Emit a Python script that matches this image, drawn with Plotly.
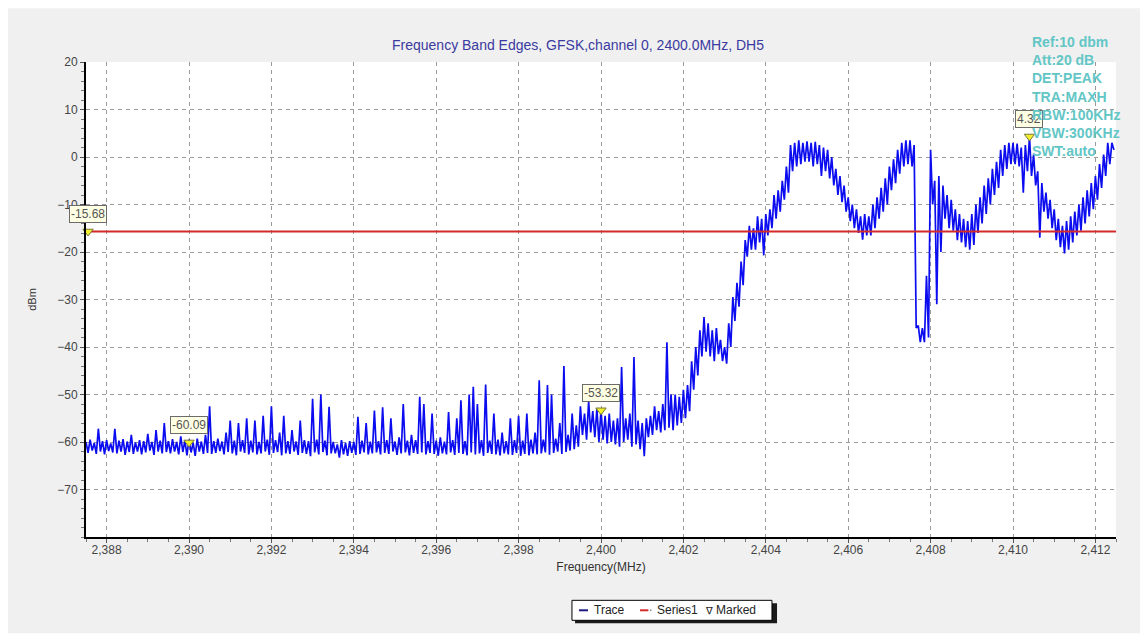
import numpy as np
import plotly.graph_objects as go

# ---------------- data ----------------
title_text = "Frequency Band Edges, GFSK,channel 0, 2400.0MHz, DH5"
info_lines = ["Ref:10 dbm", "Att:20 dB", "DET:PEAK", "TRA:MAXH", "RBW:100KHz", "VBW:300KHz", "SWT:auto"]
legend_names = ["Trace", "Series1", "Marked"]

bin_start = 2387.5    # MHz, first display bin
bin_width = 0.1       # MHz per display bin

# highest level seen in each 0.1 MHz bin (dBm), one row per MHz
bin_max = [
    -60.0, -59.5, -60.2, -57.2, -59.8, -59.6, -60.3, -57.2, -59.7, -59.4,   # 2387.5
    -59.9, -58.5, -60.1, -59.6, -59.8, -58.3, -60.0, -57.5, -59.7, -56.0,   # 2388.5
    -59.8, -59.4, -60.0, -58.8, -59.7, -59.5, -60.2, -59.3, -59.9, -58.5,   # 2389.5
    -52.5, -59.8, -59.3, -59.9, -58.0, -55.5, -59.7, -56.0, -59.6, -55.0,   # 2390.5
    -59.7, -55.5, -60.0, -54.5, -59.5, -52.5, -59.6, -58.0, -54.5, -59.8,   # 2391.5
    -57.5, -59.9, -55.5, -59.6, -59.8, -50.9, -59.5, -50.0, -59.7, -52.6,   # 2392.5
    -60.0, -60.5, -59.6, -60.2, -59.8, -60.0, -54.7, -59.7, -56.0, -59.9,   # 2393.5
    -53.4, -59.8, -52.7, -59.6, -55.0, -59.9, -59.0, -52.0, -59.7, -58.5,   # 2394.5
    -59.6, -50.5, -52.0, -59.8, -54.0, -59.7, -59.0, -59.9, -53.7, -59.6,   # 2395.5
    -55.0, -51.2, -59.8, -50.0, -48.4, -52.0, -59.6, -47.9, -59.7, -54.0,   # 2396.5
    -59.5, -58.0, -59.8, -55.0, -59.6, -54.5, -59.7, -54.0, -59.5, -58.0,   # 2397.5
    -47.0, -59.5, -48.0, -50.0, -59.3, -56.0, -44.0, -58.5, -54.0, -56.5,   # 2398.5
    -52.5, -54.0, -51.5, -53.5, -53.0, -53.3, -54.5, -54.0, -55.5, -55.0,   # 2399.5
    -44.2, -55.0, -54.0, -42.1, -55.5, -56.0, -55.0, -54.5, -52.5, -53.5,   # 2400.5
    -52.0, -39.0, -50.0, -50.0, -50.5, -49.0, -48.0, -43.0, -40.0, -36.5,   # 2401.5
    -33.7, -35.0, -36.5, -36.0, -38.5, -40.0, -35.0, -29.5, -26.5, -22.0,   # 2402.5
    -17.5, -14.5, -15.0, -12.5, -13.0, -12.0, -11.0, -8.0, -7.0, -5.0,      # 2403.5
    -2.0, 2.5, 3.0, 3.5, 3.0, 3.3, 3.0, 3.2, 2.5, 2.0,                      # 2404.5
    1.5, 0.0, -2.5, -4.0, -6.0, -8.5, -10.0, -11.0, -12.5, -12.0,           # 2405.5
    -12.5, -10.0, -8.5, -6.5, -4.5, -2.0, -0.5, 1.5, 3.0, 3.5,              # 2406.5
    3.5, 2.5, -35.5, -36.0, -25.0, 1.5, -5.0, -4.0, -6.0, -8.0,             # 2407.5
    -9.0, -11.0, -12.0, -13.0, -13.5, -12.0, -10.0, -8.5, -6.0, -4.5,       # 2408.5
    -2.5, -1.0, 1.5, 2.5, 3.0, 3.0, 2.8, 2.0, 2.5, 4.3,                     # 2409.5
    0.5, -3.0, -5.5, -7.5, -9.0, -11.0, -13.0, -14.5, -13.5, -12.5,         # 2410.5
    -11.5, -10.0, -8.5, -7.0, -5.5, -4.0, -1.5, 0.5, 3.0, 3.0,              # 2411.5
]

# lowest level seen in each 0.1 MHz bin (dBm), one row per MHz
bin_min = [
    -62.3, -61.8, -62.5, -62.0, -62.6, -61.9, -62.2, -62.4, -62.0, -62.7,   # 2387.5
    -62.1, -62.5, -62.0, -62.6, -62.2, -61.8, -62.7, -62.0, -62.4, -62.1,   # 2388.5
    -62.4, -62.0, -62.6, -62.1, -62.8, -62.2, -62.9, -62.0, -62.5, -62.3,   # 2389.5
    -62.5, -62.3, -61.9, -62.6, -62.1, -62.4, -62.8, -62.0, -62.3, -62.6,   # 2390.5
    -62.2, -62.6, -62.4, -62.0, -62.7, -62.3, -62.1, -62.8, -62.4, -62.5,   # 2391.5
    -62.0, -62.7, -62.3, -62.5, -63.0, -62.2, -62.6, -62.1, -62.8, -62.4,   # 2392.5
    -62.4, -63.3, -62.6, -62.9, -62.3, -62.7, -62.5, -62.2, -62.6, -62.4,   # 2393.5
    -62.2, -62.6, -62.3, -62.5, -62.0, -62.7, -62.4, -62.2, -62.8, -62.3,   # 2394.5
    -62.5, -62.2, -62.6, -62.3, -62.5, -62.9, -62.4, -62.6, -62.2, -62.7,   # 2395.5
    -62.3, -62.5, -62.8, -62.2, -62.6, -62.4, -62.9, -62.3, -62.5, -62.6,   # 2396.5
    -62.8, -62.4, -62.6, -62.7, -62.3, -62.9, -62.5, -62.8, -62.4, -62.6,   # 2397.5
    -62.4, -62.2, -62.7, -62.3, -62.0, -62.5, -62.1, -61.8, -61.5, -61.0,   # 2398.5
    -58.5, -59.5, -58.0, -59.0, -60.0, -59.5, -60.3, -60.0, -60.5, -61.0,   # 2399.5
    -60.0, -59.5, -61.0, -60.5, -61.5, -63.0, -59.0, -58.5, -57.5, -58.0,   # 2400.5
    -57.5, -57.0, -57.5, -56.5, -56.0, -55.0, -53.5, -49.0, -46.0, -42.0,   # 2401.5
    -41.0, -42.0, -43.0, -41.5, -43.0, -43.5, -40.0, -34.5, -31.5, -27.0,   # 2402.5
    -21.0, -19.5, -19.5, -18.0, -20.7, -16.5, -15.0, -13.0, -11.5, -9.0,    # 2403.5
    -7.5, -3.0, -2.0, -1.5, -1.0, -1.0, -2.0, -1.5, -4.0, -3.0,             # 2404.5
    -4.5, -6.0, -8.0, -9.5, -11.5, -13.5, -15.0, -16.0, -17.4, -16.5,       # 2405.5
    -16.5, -15.0, -13.0, -11.5, -10.0, -7.0, -5.5, -3.5, -2.0, -1.5,        # 2406.5
    -2.0, -36.0, -39.0, -39.0, -38.0, -10.0, -31.0, -20.0, -13.0, -15.0,    # 2407.5
    -15.5, -17.5, -18.0, -19.0, -19.5, -18.5, -16.0, -14.0, -12.0, -10.0,   # 2408.5
    -8.0, -6.5, -4.0, -2.5, -1.5, -1.5, -2.0, -7.5, -3.0, -4.0,             # 2409.5
    -6.0, -17.0, -11.5, -13.0, -15.0, -17.5, -19.0, -20.3, -19.5, -18.0,    # 2410.5
    -16.5, -15.5, -14.0, -12.5, -11.0, -9.0, -6.5, -4.0, -1.5, 1.5,         # 2411.5
]

limit_dbm = -15.68
limit_freq = [2387.5, 2412.5]

marker_freq = [2387.55, 2390.0, 2400.0, 2410.4]
marker_dbm = [-15.68, -60.09, -53.32, 4.32]

x_ticks = [2388, 2390, 2392, 2394, 2396, 2398, 2400, 2402, 2404, 2406, 2408, 2410, 2412]
y_ticks = [20, 10, 0, -10, -20, -30, -40, -50, -60, -70]
x_range = [2387.5, 2412.5]
y_range = [-80, 20]

# ---------------- figure ----------------
trace_color = "#0c0cf0"
limit_color = "#d42a2a"
FONT = "Liberation Sans, Arial"

# peak/min display: each bin drawn as a stroke from its max to its min
bin_freq = bin_start + bin_width * np.arange(len(bin_max))
trace_x = np.column_stack([bin_freq, bin_freq + bin_width / 2]).ravel()
trace_y = np.column_stack([bin_max, bin_min]).ravel()

fig = go.Figure()
fig.add_trace(go.Scatter(
    x=trace_x, y=trace_y, mode="lines", name=legend_names[0],
    line=dict(color=trace_color, width=1.7),
))
fig.add_trace(go.Scatter(
    x=limit_freq, y=[limit_dbm, limit_dbm], mode="lines", name=legend_names[1],
    line=dict(color=limit_color, width=2),
))
fig.add_trace(go.Scatter(
    x=marker_freq, y=marker_dbm, mode="markers", name=legend_names[2],
    marker=dict(symbol="triangle-down", size=9, color="#f2ee30",
                line=dict(color="#777733", width=1)),
    cliponaxis=False,
))

for f, v in zip(marker_freq, marker_dbm):
    fig.add_annotation(
        x=f, y=v, xref="x", yref="y", text=f"{v:.2f}", showarrow=False,
        yshift=17, bgcolor="#ffffe4", bordercolor="#6b6b6b", borderwidth=1,
        borderpad=1, font=dict(family=FONT, size=12, color="#555555"),
    )

# chart title
fig.add_annotation(
    x=0.4777, y=1.035, xref="paper", yref="paper", text=title_text,
    showarrow=False, xanchor="center", yanchor="middle",
    font=dict(family=FONT, size=14, color="#3a3aa0"),
)
# analyser settings
fig.add_annotation(
    x=0.9165, y=1.064, xref="paper", yref="paper", text="<br>".join(info_lines),
    showarrow=False, xanchor="left", yanchor="top", align="left",
    font=dict(family=FONT, size=14, color="#63c6c6", weight="bold"),
)

# background: white page border, grey panel, white plotting area
fig.add_shape(type="rect", xref="paper", yref="paper", layer="below",
              x0=-0.0757, x1=1.0233, y0=-0.2027, y1=1.113,
              fillcolor="#f0f0f0", line=dict(width=0))
fig.add_shape(type="rect", xref="paper", yref="paper", layer="below",
              x0=0, x1=1, y0=0, y1=1, fillcolor="white", line=dict(width=0))

# legend box (drawn like the original control: white box with a drop shadow)
leg_y = -0.1543
fig.add_shape(type="rect", xref="paper", yref="paper", layer="above",
              x0=0.4748, x1=0.6709, y0=-0.1396, y1=-0.1817,
              fillcolor="#1a1a1a", line=dict(width=0))
fig.add_shape(type="rect", xref="paper", yref="paper", layer="above",
              x0=0.4718, x1=0.6660, y0=-0.1333, y1=-0.1754,
              fillcolor="white", line=dict(color="black", width=1))
fig.add_shape(type="line", xref="paper", yref="paper", layer="above",
              x0=0.4786, x1=0.4874, y0=leg_y, y1=leg_y,
              line=dict(color="#1a1a80", width=2))
fig.add_shape(type="line", xref="paper", yref="paper", layer="above",
              x0=0.5379, x1=0.5460, y0=leg_y, y1=leg_y,
              line=dict(color=limit_color, width=2))
fig.add_shape(type="line", xref="paper", yref="paper", layer="above",
              x0=0.5475, x1=0.5490, y0=leg_y, y1=leg_y,
              line=dict(color="#888888", width=1.5))
legend_text_x = [0.4913, 0.5524, 0.6097]
for name, lx in zip(legend_names, legend_text_x):
    fig.add_annotation(x=lx, y=leg_y, xref="paper", yref="paper", text=name,
                       showarrow=False, xanchor="left", yanchor="middle",
                       font=dict(family=FONT, size=12, color="#222222"))
fig.add_annotation(x=0.5995, y=leg_y, xref="paper", yref="paper", text="∇",
                   showarrow=False, xanchor="left", yanchor="middle",
                   font=dict(family="DejaVu Sans", size=10, color="#222222"))

axis_font = dict(family=FONT, size=12, color="#444444")
fig.update_layout(
    width=1145, height=640,
    margin=dict(l=86, r=29, t=62, b=103),
    paper_bgcolor="white", plot_bgcolor="white",
    font=axis_font,
    showlegend=False,
    xaxis=dict(
        range=x_range, tickvals=x_ticks, ticktext=[f"{t:,}" for t in x_ticks],
        showline=True, linecolor="black", linewidth=2, mirror=False,
        ticks="outside", ticklen=4, tickcolor="#555555", ticklabelstandoff=-3,
        showgrid=True, gridcolor="#9a9a9a", gridwidth=1, griddash="4px,4px",
        zeroline=False, tickfont=axis_font,
        minor=dict(dtick=0.5, tick0=2388, ticks="outside", ticklen=3, tickcolor="#777777", showgrid=False),
        title=dict(text="Frequency(MHz)", font=dict(family=FONT, size=12, color="#333333"), standoff=6),
    ),
    yaxis=dict(
        range=y_range, tickvals=y_ticks,
        showline=True, linecolor="black", linewidth=2, mirror=False,
        ticks="outside", ticklen=4, tickcolor="#555555",
        showgrid=True, gridcolor="#9a9a9a", gridwidth=1, griddash="4px,4px",
        zeroline=False, tickfont=axis_font,
        minor=dict(dtick=2, tick0=0, ticks="outside", ticklen=3, tickcolor="#777777", showgrid=False),
        title=dict(text="dBm", font=dict(family=FONT, size=11, color="#333333"), standoff=18),
    ),
)

fig.write_html("out.html", config={"displayModeBar": False},
               post_script="document.body.style.margin='0';document.body.style.padding='0';")
